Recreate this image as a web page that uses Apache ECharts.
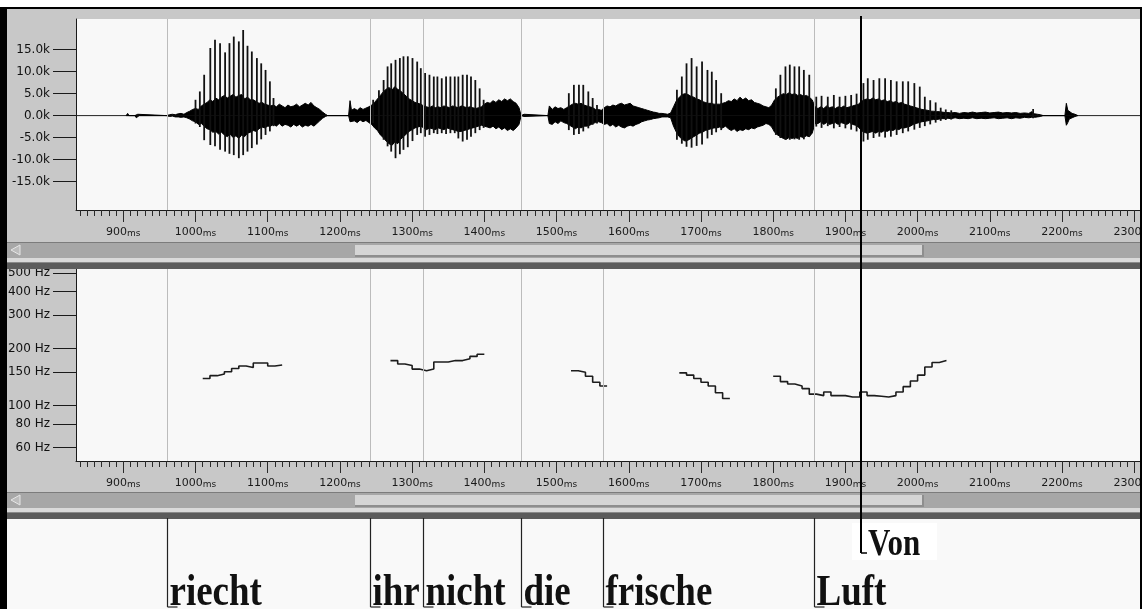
<!DOCTYPE html>
<html>
<head>
<meta charset="utf-8">
<script src="https://cdn.jsdelivr.net/npm/echarts@6/dist/echarts.min.js"></script>
<style>
  html, body { margin: 0; padding: 0; background: #c8c8c8; }
  #chart { width: 1142px; height: 609px; }
</style>
</head>
<body>
<div id="chart"></div>
<script>
// ---- time axis (ms) ----
const X_MIN = 834.5, X_MAX = 2308;
const timeTicks = [900, 1000, 1100, 1200, 1300, 1400, 1500, 1600, 1700, 1800, 1900, 2000, 2100, 2200, 2300];
const ampTicks = [-15, -10, -5, 0, 5, 10, 15];            // amplitude, thousands
const pitchTicks = [60, 80, 100, 150, 200, 300, 400, 500]; // Hz, log scale

// ---- word segmentation ----
const wordLabels = ['riecht', 'ihr', 'nicht', 'die', 'frische', 'Luft'];
const wordStarts = [961, 1242, 1315, 1451, 1565, 1857];
const accentLabel = 'Von';
const accentTime = 1922;

// ---- waveform envelope: [ms, upper (k), lower (k)] ----
const waveBlip = [[904,0,0],[906,0.5,-0.3],[908,0,0],[916,0,0],[918,0.4,-0.5],[920,0.3,-0.3],[922,0,0]];
const waveRiecht = [
  [960,0,0],[964,0.2,-0.2],[968,0.3,-0.1],[972,0.2,-0.3],[976,0.4,-0.3],[980,0.5,-0.4],[984,0.3,-0.3],[988,0.7,-0.5],[992,1.0,-0.8],[996,1.4,-1.2],
  [1000,1.6,-1.4],[1004,1.4,-2.0],[1008,2.2,-1.8],[1012,2.6,-2.4],[1016,3.0,-3.0],[1020,3.6,-3.2],[1024,3.2,-3.8],[1028,4.0,-3.6],[1032,3.6,-4.2],[1036,4.2,-3.8],
  [1040,4.6,-4.4],[1044,4.0,-4.8],[1048,4.4,-4.2],[1052,4.8,-5.0],[1056,4.2,-4.6],[1060,4.6,-5.2],[1064,4.8,-4.4],[1068,3.8,-4.8],[1072,4.2,-4.0],[1076,3.6,-3.8],
  [1080,3.6,-3.4],[1084,3.2,-3.6],[1088,2.8,-3.0],[1092,3.0,-2.6],[1096,2.6,-2.8],[1100,2.4,-2.4],[1104,2.2,-2.4],[1108,2.4,-2.0],[1112,2.0,-2.4],[1116,2.6,-1.8],
  [1120,2.2,-2.4],[1124,1.8,-2.0],[1128,2.4,-2.2],[1132,2.0,-2.6],[1136,2.2,-2.0],[1140,2.6,-2.4],[1144,2.0,-2.0],[1148,2.4,-2.6],[1152,2.8,-2.2],[1156,2.4,-2.4],
  [1160,3.0,-2.0],[1164,2.2,-2.4],[1168,1.8,-1.8],[1172,1.4,-1.2],[1176,0.8,-0.6],[1180,0.3,-0.2],[1183,0,0]
];
const waveIhrNicht = [
  [1212,0,0],[1214,3.4,-1.4],[1216,1.2,-1.0],[1220,1.6,-1.2],[1224,1.2,-1.6],[1228,1.8,-1.0],[1232,1.4,-1.4],[1236,1.7,-1.1],[1240,2.0,-1.6],[1244,2.4,-2.0],
  [1248,3.0,-2.8],[1252,3.8,-3.4],[1256,4.6,-4.4],[1260,5.4,-5.0],[1264,6.0,-5.8],[1268,6.4,-6.4],[1272,5.8,-6.8],[1276,6.6,-6.0],[1280,6.0,-6.4],[1284,5.6,-5.4],
  [1288,5.0,-4.8],[1292,4.4,-4.2],[1296,3.8,-3.6],[1300,3.4,-3.2],[1304,3.0,-2.8],[1308,2.8,-2.6],[1312,2.6,-2.4],[1316,2.2,-2.8],[1320,2.0,-3.2],[1324,1.8,-2.8],
  [1328,2.2,-3.0],[1332,1.8,-3.2],[1336,2.0,-2.8],[1340,1.8,-3.0],[1344,2.2,-3.2],[1348,2.0,-2.8],[1352,1.8,-3.0],[1356,2.2,-3.2],[1360,2.0,-3.4],[1364,1.8,-3.6],
  [1368,2.2,-3.6],[1372,2.0,-3.4],[1376,1.8,-3.2],[1380,2.0,-3.0],[1384,1.8,-2.8],[1388,1.6,-2.6],[1392,1.8,-2.4],[1396,2.0,-2.2],[1400,2.6,-2.4],[1404,3.0,-2.6],
  [1408,2.8,-2.8],[1412,3.4,-2.4],[1416,3.0,-3.0],[1420,3.6,-2.6],[1424,3.2,-3.2],[1428,3.8,-2.8],[1432,3.4,-3.4],[1436,3.8,-3.0],[1440,3.2,-3.4],[1444,2.8,-2.8],
  [1448,1.8,-2.0],[1451,0,0],[1453,0,0],[1455,0.3,-0.2],[1457,0,0]
];
const waveDie = [
  [1488,0,0],[1490,2.2,-1.8],[1494,1.4,-2.0],[1498,2.0,-1.4],[1502,1.6,-1.8],[1506,1.8,-1.2],[1510,1.4,-1.6],[1514,1.8,-1.8],[1518,2.2,-2.2],[1522,2.6,-2.6],
  [1526,2.8,-3.0],[1530,2.6,-2.6],[1534,2.8,-2.8],[1538,2.4,-2.4],[1542,2.2,-2.4],[1546,2.0,-2.2],[1550,1.8,-1.8],[1554,1.4,-1.6],[1558,1.4,-1.4],[1562,1.2,-1.6]
];
const waveFrische = [
  [1566,1.8,-2.0],[1570,2.2,-1.8],[1574,2.0,-2.4],[1578,2.4,-2.0],[1582,2.2,-2.6],[1586,2.6,-2.2],[1590,2.8,-2.6],[1594,2.4,-2.8],[1598,2.6,-2.4],[1602,2.8,-2.2],
  [1606,2.2,-2.4],[1610,2.0,-2.0],[1614,1.8,-1.8],[1618,1.6,-1.4],[1622,1.4,-1.2],[1626,1.2,-1.0],[1630,1.0,-0.9],[1634,0.8,-0.7],[1638,0.7,-0.6],[1642,0.5,-0.5],
  [1646,0.5,-0.3],[1650,0.4,-0.3],[1654,0.3,-0.3],[1658,0.6,-0.5],
  [1662,2.0,-2.4],[1666,3.4,-3.8],[1670,4.2,-4.8],[1674,4.8,-5.4],[1678,5.0,-5.8],[1682,4.8,-5.6],[1686,4.4,-5.2],[1690,4.2,-4.8],[1694,3.8,-4.4],[1698,3.6,-4.0],
  [1702,3.2,-3.8],[1706,3.0,-3.4],[1710,2.8,-3.2],[1714,2.8,-3.0],[1718,2.6,-2.8],[1722,2.6,-2.8],[1726,2.6,-2.6],
  [1730,2.8,-2.8],[1734,3.0,-2.4],[1738,3.4,-3.0],[1742,3.2,-3.4],[1746,3.8,-3.0],[1750,3.4,-3.6],[1754,4.2,-3.2],[1758,3.6,-3.4],[1762,4.0,-3.0],[1766,3.4,-3.2],
  [1770,3.6,-2.8],[1774,3.0,-3.0],[1778,2.8,-2.6],[1782,2.6,-2.4],[1786,2.2,-2.2],[1790,2.0,-1.8],[1794,1.8,-2.0],[1798,2.4,-2.6],
  [1802,3.6,-3.8],[1806,4.2,-4.4],[1810,4.6,-4.8],[1814,5.0,-5.2],[1818,4.8,-5.4],[1822,5.2,-5.0],[1826,4.8,-5.2],[1830,5.0,-5.0],[1834,4.6,-5.2],[1838,4.8,-4.8],
  [1842,4.4,-5.0],[1846,4.6,-4.6],[1850,4.2,-4.8],[1854,3.6,-4.0]
];
const waveLuft = [
  [1858,2.0,-1.8],[1862,1.6,-1.8],[1866,2.0,-1.4],[1870,1.6,-2.0],[1874,2.2,-1.6],[1878,1.8,-2.0],[1882,2.0,-1.8],[1886,1.6,-1.6],[1890,2.0,-2.0],[1894,1.8,-1.6],
  [1898,2.2,-1.8],[1902,1.8,-2.0],[1906,2.0,-1.6],[1910,2.2,-2.0],[1914,2.4,-2.2],[1918,2.6,-2.6]
];
const waveVon = [
  [1922,3.2,-3.4],[1926,3.6,-3.8],[1930,3.8,-4.0],[1934,3.6,-3.8],[1938,4.0,-3.6],[1942,3.6,-4.0],[1946,3.8,-3.6],[1950,3.4,-3.8],[1954,3.6,-3.4],[1958,3.2,-3.6],
  [1962,3.4,-3.2],[1966,3.0,-3.4],[1970,3.2,-3.0],[1974,2.8,-3.2],[1978,3.0,-2.8],[1982,2.6,-2.8],[1986,2.4,-2.6],[1990,2.2,-2.4],[1994,2.0,-2.0],[1998,1.8,-1.8],
  [2002,1.6,-1.6],[2006,1.4,-1.4],[2010,1.3,-1.3],[2014,1.2,-1.2],[2018,1.0,-1.0],[2022,1.0,-0.9],[2026,0.9,-0.9],[2030,0.9,-0.8],[2034,0.8,-0.7],[2038,0.7,-0.7],
  [2042,0.7,-0.6],[2046,0.6,-0.7],[2052,0.7,-0.5],[2058,0.5,-0.7],[2064,0.7,-0.6],[2070,0.6,-0.7],[2076,0.8,-0.5],[2082,0.6,-0.7],[2088,0.7,-0.6],[2094,0.8,-0.7],
  [2100,0.6,-0.6],[2106,0.7,-0.5],[2112,0.8,-0.7],[2118,0.6,-0.6],[2124,0.7,-0.5],[2130,0.6,-0.7],[2136,0.7,-0.5],[2142,0.5,-0.6],[2148,0.6,-0.4],[2154,0.5,-0.5],
  [2158,0.9,-0.4],[2162,0.4,-0.4],[2166,0.3,-0.3],[2170,0.2,-0.2],[2174,0,0]
];
const waveRelease = [[2204,0,0],[2206,2.8,-2.2],[2208,1.2,-1.6],[2210,0.8,-0.8],[2214,0.5,-0.5],[2218,0.3,-0.2],[2222,0,0]];

// ---- glottal pulses: [ms, peak (k), trough (k)] ----
const pulsesRiecht = [[1000,3.6,-1.8],[1006,5.5,-2.6],[1012,9.3,-5.6],[1020.5,15.4,-6.7],[1027,17.3,-7.0],[1034,16.5,-7.8],[1041,14.4,-8.2],[1047,16.5,-8.7],[1053,18.0,-9.0],
  [1060,16.9,-9.7],[1066,19.5,-9.0],[1072,15.9,-8.2],[1078,14.6,-7.4],[1085,13.1,-6.6],[1091,11.9,-5.4],[1097,10.4,-4.4],[1103,7.8,-3.6],[1108,4.0,-2.4]];
const pulsesIhrNicht = [[1246,3.6,-1.7],[1254,5.8,-3.3],[1260.5,8.1,-5.5],[1266,11.2,-7.0],[1271,11.9,-8.2],[1277,12.7,-9.7],[1283,13.1,-8.8],[1288,13.5,-7.8],[1294,13.5,-7.2],
  [1300.5,13.1,-5.8],[1307,12.3,-4.4],[1312,10.8,-4.0],[1318,9.7,-4.8],[1324,9.3,-4.4],[1330,8.9,-4.0],[1335,8.9,-4.2],[1341,8.5,-4.0],[1347,8.9,-4.2],[1353,8.9,-4.0],
  [1359,8.9,-4.0],[1364,8.9,-5.2],[1370,9.3,-5.9],[1376,9.3,-5.5],[1381.5,8.9,-4.8],[1387.5,8.1,-4.0],[1393.5,6.2,-3.3],[1399,3.6,-2.8]];
const pulsesDie = [[1517,5.1,-3.3],[1524,7.0,-4.4],[1531,7.0,-4.2],[1537,7.0,-3.6],[1544,5.5,-2.9],[1550,4.0,-2.1],[1556,2.4,-1.8]];
const pulsesFrische = [[1666.7,5.9,-5.5],[1673.5,8.9,-6.4],[1680,11.9,-7.1],[1687,13.1,-7.3],[1694,11.2,-6.9],[1701.5,12.3,-6.6],[1709,10.4,-5.2],[1715,10.0,-4.4],
  [1721,8.1,-3.8],[1728,5.1,-3.3],[1803.7,6.2,-4.4],[1810,9.3,-5.1],[1817,11.2,-5.5],[1823,11.6,-5.5],[1829.5,11.2,-5.4],[1836,11.2,-5.5],[1842.5,10.4,-5.4],[1850,9.3,-4.8]];
const pulsesLuft = [[1859.7,4.3,-2.5],[1867,4.5,-2.8],[1875.6,4.3,-2.4],[1884,4.7,-2.9],[1892,4.3,-2.6],[1900,4.5,-2.9],[1908,4.7,-3.2],[1915.5,5.0,-3.6]];
const pulsesVon = [[1925,7.4,-5.9],[1931,8.5,-5.5],[1939,8.1,-5.1],[1947,8.5,-4.8],[1955,8.5,-5.0],[1963,8.1,-4.8],[1971,7.8,-4.4],[1979.5,7.8,-4.0],[1987,7.8,-3.6],
  [1995.5,7.4,-3.2],[2003,6.6,-2.8],[2010,4.3,-2.4],[2017.5,3.5,-2.0],[2025,3.0,-1.6],[2032,1.8,-1.2],[2039,1.4,-1.0],[2046.6,1.2,-0.9],[2160,1.5,-0.6]];

// ---- F0 contour, 10 ms frames: [ms, Hz]; last frame closes the step ----
const pitchRiecht = [[1010,139],[1020,144],[1030,147],[1040,151],[1050,157],[1060,162],[1070,159],[1080,168],[1090,168],[1100,162],[1110,164],[1120,164]];
const pitchIhrNicht = [[1270,173],[1280,166],[1290,163],[1300,156],[1310,153],[1320,156],[1330,170],[1340,170],[1350,173],[1360,173],[1370,177],[1380,182],[1390,187],[1400,187]];
const pitchDie = [[1520,153],[1530,150],[1540,143],[1550,133],[1560,127],[1570,127]];
const pitchFrische = [[1670,149],[1680,145],[1690,139],[1700,133],[1710,127],[1720,117],[1730,109],[1740,109]];
const pitchLuftVon = [[1800,143],[1810,134],[1820,130],[1830,127],[1840,123],[1850,115],[1860,113],[1870,118],[1880,113],[1890,113],[1900,111],[1910,111],
  [1920,118],[1930,113],[1940,112],[1950,111],[1960,113],[1970,118],[1980,126],[1990,135],[2000,145],[2010,160],[2020,169],[2030,173],[2040,173]];

// ---------------------------------------------------------------------
const UI_FONT = 'DejaVu Sans';
const WORD_FONT = '"Liberation Serif", "Times New Roman", serif';
const GRID_LEFT = 76, GRID_WIDTH = 1064;

const minorTicks = [];
for (let t = 840; t <= X_MAX; t += 10) minorTicks.push(t);

const waveAll = [].concat(waveBlip, waveRiecht, waveIhrNicht, waveDie, waveFrische, waveLuft, waveVon, waveRelease);
const pulsesAll = [].concat(pulsesRiecht, pulsesIhrNicht, pulsesDie, pulsesFrische, pulsesLuft, pulsesVon);
const pitchSegments = [pitchRiecht, pitchIhrNicht, pitchDie, pitchFrische, pitchLuftVon];

function timeAxes(gridIndex) {
  return [{
    type: 'value', gridIndex, min: X_MIN, max: X_MAX, position: 'bottom',
    axisLine: { show: true, onZero: false, lineStyle: { color: '#1a1a1a', width: 1 } },
    axisTick: { show: true, customValues: timeTicks, length: 12, lineStyle: { color: '#2a2a2a', width: 1 } },
    axisLabel: {
      customValues: timeTicks, margin: 17, hideOverlap: false,
      formatter: v => '{n|' + v + '}{u|ms}',
      rich: {
        n: { fontFamily: UI_FONT, fontSize: 11, color: '#1a1a1a', verticalAlign: 'bottom' },
        u: { fontFamily: UI_FONT, fontSize: 9, color: '#1a1a1a', verticalAlign: 'bottom' }
      }
    },
    splitLine: { show: false }
  }, {
    type: 'value', gridIndex, min: X_MIN, max: X_MAX, position: 'bottom',
    axisLine: { show: false, onZero: false },
    axisTick: { show: true, customValues: minorTicks, length: 6, lineStyle: { color: '#2a2a2a', width: 1 } },
    axisLabel: { show: false },
    splitLine: { show: false }
  }];
}

function yAxisCommon(extra) {
  return Object.assign({
    type: 'value', position: 'left',
    axisLine: { show: true, onZero: false, lineStyle: { color: '#1a1a1a', width: 1 } },
    splitLine: { show: false }
  }, extra);
}

function scrollbar(y) {
  const z = 10;
  return [
    { type: 'rect', z, shape: { x: 7, y: y, width: 1133, height: 1 }, style: { fill: '#7c7c7c' } },
    { type: 'rect', z, shape: { x: 7, y: y + 1, width: 1133, height: 15 }, style: { fill: '#a7a7a7' } },
    { type: 'rect', z, shape: { x: 355, y: y + 3, width: 568, height: 11 }, style: { fill: '#d5d5d5' } },
    { type: 'rect', z, shape: { x: 355, y: y + 13, width: 568, height: 2 }, style: { fill: '#8e8e8e' } },
    { type: 'rect', z, shape: { x: 922, y: y + 3, width: 2, height: 12 }, style: { fill: '#8e8e8e' } },
    { type: 'polygon', z, shape: { points: [[11, y + 8], [20, y + 3], [20, y + 13]] }, style: { fill: '#bcbcbc', stroke: '#e6e6e6', lineWidth: 1 } },
    { type: 'rect', z, shape: { x: 7, y: y + 16, width: 1133, height: 4 }, style: { fill: '#dadada' } },
    { type: 'rect', z, shape: { x: 7, y: y + 20, width: 1133, height: 7 }, style: { fill: '#5c5c5c' } },
    { type: 'rect', z, shape: { x: 7, y: y + 20, width: 1133, height: 1 }, style: { fill: '#8a8a8a' } }
  ];
}

const graphics = [
  { type: 'rect', z: 10, shape: { x: 0, y: 0, width: 1142, height: 7 }, style: { fill: '#ffffff' } },
  { type: 'rect', z: 10, shape: { x: 0, y: 7, width: 1142, height: 2 }, style: { fill: '#000' } },
  { type: 'rect', z: 10, shape: { x: 0, y: 7, width: 7, height: 602 }, style: { fill: '#000' } },
  { type: 'rect', z: 10, shape: { x: 1140, y: 7, width: 2, height: 602 }, style: { fill: '#000' } },
  { type: 'rect', z: 0, shape: { x: 7, y: 519, width: 1133, height: 90 }, style: { fill: '#f9f9f9' } }
].concat(scrollbar(242), scrollbar(492));

const boundaryMarks = {
  silent: true, symbol: 'none', label: { show: false },
  lineStyle: { color: '#bcbcbc', width: 1, type: 'solid' },
  emphasis: { disabled: true },
  data: wordStarts.map(t => ({ xAxis: t }))
};

const series = [
  // zero line + word boundaries in the waveform panel
  { type: 'line', xAxisIndex: 0, yAxisIndex: 0, z: 1, silent: true, symbol: 'none',
    data: [[X_MIN, 0], [X_MAX, 0]], lineStyle: { color: '#222', width: 1 }, markLine: boundaryMarks },
  // waveform envelope
  { type: 'line', xAxisIndex: 0, yAxisIndex: 0, z: 2, silent: true, symbol: 'none', sampling: 'none',
    data: waveAll.map(d => [d[0], d[1]]), lineStyle: { color: '#000', width: 1 }, areaStyle: { color: '#000', opacity: 1 } },
  { type: 'line', xAxisIndex: 0, yAxisIndex: 0, z: 2, silent: true, symbol: 'none', sampling: 'none',
    data: waveAll.map(d => [d[0], d[2]]), lineStyle: { color: '#000', width: 1 }, areaStyle: { color: '#000', opacity: 1 } },
  // glottal pulses
  { type: 'custom', xAxisIndex: 0, yAxisIndex: 0, z: 3, silent: true,
    data: pulsesAll, encode: { x: 0, y: [1, 2] },
    renderItem: (params, api) => {
      const a = api.coord([api.value(0), api.value(1)]);
      const b = api.coord([api.value(0), api.value(2)]);
      return { type: 'line', shape: { x1: a[0], y1: a[1], x2: b[0], y2: b[1] },
               style: { stroke: '#111', lineWidth: 1.8 } };
    } },
  // word boundaries in the pitch panel
  { type: 'line', xAxisIndex: 2, yAxisIndex: 1, z: 1, silent: true, symbol: 'none',
    data: [], markLine: boundaryMarks }
];

pitchSegments.forEach(seg => {
  series.push({
    type: 'line', xAxisIndex: 2, yAxisIndex: 1, z: 3, silent: true, symbol: 'none', step: 'end',
    data: seg.map(d => [d[0], Math.log10(d[1])]),
    lineStyle: { color: '#1c1c1c', width: 1.6 }
  });
});

// word tier
series.push({
  type: 'custom', xAxisIndex: 4, yAxisIndex: 2, z: 50, silent: true, clip: false,
  data: wordStarts.map((t, i) => [t, i]), encode: { x: 0, y: 1 },
  renderItem: (params, api) => {
    const x = Math.round(api.coord([api.value(0), 0])[0]) + 0.5;
    const top = params.coordSys.y;
    const bottom = top + params.coordSys.height - 2;
    return { type: 'group', children: [
      { type: 'line', shape: { x1: x, y1: top, x2: x, y2: bottom }, style: { stroke: '#222', lineWidth: 1.2 } },
      { type: 'line', shape: { x1: x, y1: bottom, x2: x + 10, y2: bottom }, style: { stroke: '#222', lineWidth: 1.2 } },
      { type: 'text', x: x + 2, y: bottom + 9, scaleY: 1.22,
        style: { text: wordLabels[params.dataIndex], font: 'bold 37px ' + WORD_FONT, fill: '#111',
                 align: 'left', verticalAlign: 'bottom' } }
    ] };
  }
});

// accent cursor with its label
series.push({
  type: 'custom', xAxisIndex: 4, yAxisIndex: 2, z: 100, silent: true, clip: false,
  data: [[accentTime, 0]], encode: { x: 0, y: 1 },
  renderItem: (params, api) => {
    const x = Math.round(api.coord([api.value(0), 0])[0]);
    return { type: 'group', children: [
      { type: 'rect', shape: { x: x - 9, y: 523, width: 85, height: 37 }, style: { fill: '#ffffff' } },
      { type: 'line', shape: { x1: x, y1: 16, x2: x, y2: 553 }, style: { stroke: '#000', lineWidth: 2 } },
      { type: 'line', shape: { x1: x, y1: 553, x2: x + 6, y2: 553 }, style: { stroke: '#000', lineWidth: 1.5 } },
      { type: 'text', x: x + 7, y: 564, scaleY: 1.22,
        style: { text: accentLabel, font: 'bold 31px ' + WORD_FONT, fill: '#111', align: 'left', verticalAlign: 'bottom' } }
    ] };
  }
});

const gridCommon = { outerBoundsMode: 'none', containLabel: false };

const option = {
  animation: false,
  backgroundColor: '#c8c8c8',
  grid: [
    Object.assign({ left: GRID_LEFT, top: 19, width: GRID_WIDTH, height: 191, show: true, backgroundColor: '#f8f8f8', borderWidth: 0 }, gridCommon),
    Object.assign({ left: GRID_LEFT, top: 269, width: GRID_WIDTH, height: 192, show: true, backgroundColor: '#f8f8f8', borderWidth: 0 }, gridCommon),
    Object.assign({ left: GRID_LEFT, top: 518, width: GRID_WIDTH, height: 91, show: false }, gridCommon)
  ],
  xAxis: [].concat(timeAxes(0), timeAxes(1), [{ type: 'value', gridIndex: 2, min: X_MIN, max: X_MAX, show: false }]),
  yAxis: [
    yAxisCommon({
      gridIndex: 0, min: -21.5, max: 22.0,
      axisTick: { show: true, length: 23, customValues: ampTicks, lineStyle: { color: '#1a1a1a', width: 1 } },
      axisLabel: { customValues: ampTicks, margin: 26, fontFamily: UI_FONT, fontSize: 12, color: '#111', hideOverlap: false,
                   formatter: v => v.toFixed(1) + 'k' }
    }),
    yAxisCommon({
      gridIndex: 1, min: Math.log10(51), max: Math.log10(527),
      axisTick: { show: true, length: 23, customValues: pitchTicks.map(Math.log10), lineStyle: { color: '#1a1a1a', width: 1 } },
      axisLabel: { customValues: pitchTicks.map(Math.log10), margin: 26, fontFamily: UI_FONT, fontSize: 12, color: '#111', hideOverlap: false,
                   formatter: v => Math.round(Math.pow(10, v)) + ' Hz' }
    }),
    { type: 'value', gridIndex: 2, min: 0, max: 1, show: false }
  ],
  graphic: { elements: graphics },
  series
};

const chart = echarts.init(document.getElementById('chart'), null, { renderer: 'canvas' });
chart.setOption(option);
</script>
</body>
</html>
